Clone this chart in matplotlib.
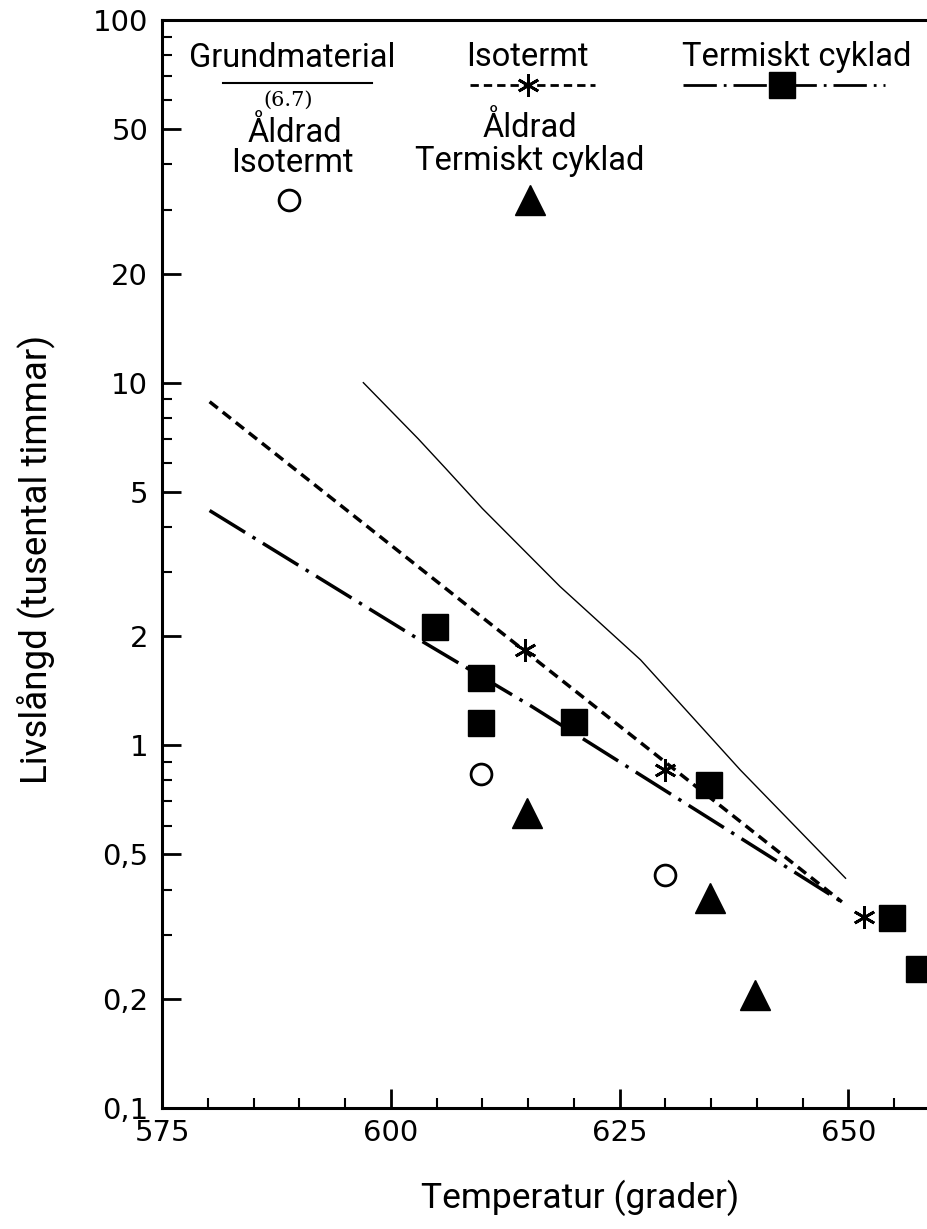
import numpy as np
import matplotlib
matplotlib.use("Agg")
import matplotlib.pyplot as plt
from matplotlib.ticker import FixedLocator, NullFormatter

# Grundmaterial (solid thin curve)
grund_temp = [597, 603, 606, 610, 618.5, 627.3, 638.2, 649.7]
grund_life = [10.0, 7.0, 5.8, 4.5, 2.74, 1.72, 0.855, 0.43]

# Isotermt (dashed line) and its points
iso_line_temp = [580.2, 649.3]
iso_line_life = [8.86, 0.37]
iso_temp = [614.7, 630.0, 651.7]
iso_life = [1.83, 0.855, 0.337]

# Termiskt cyklad (dash-dot line) and its points
cyk_line_temp = [580.2, 603.2, 615.4, 649.5]
cyk_line_life = [4.44, 1.95, 1.28, 0.367]
cyk_temp = [604.8, 609.9, 609.9, 620.0, 634.8, 654.8, 657.7]
cyk_life = [2.12, 1.53, 1.15, 1.16, 0.777, 0.335, 0.241]

# Aldrad isotermt (open circles)
ald_iso_temp = [609.9, 630.0]
ald_iso_life = [0.834, 0.439]

# Aldrad termiskt cyklad (triangles)
ald_cyk_temp = [614.9, 634.9, 639.8]
ald_cyk_life = [0.649, 0.379, 0.205]

y_major = [0.1, 0.2, 0.5, 1, 2, 5, 10, 20, 50, 100]
y_labels = ["0,1", "0,2", "0,5", "1", "2", "5", "10", "20", "50", "100"]
x_major = [575, 600, 625, 650]

narrow = ["Roboto", "DejaVu Sans"]
star = (6, 2, 0)
dashdot = (0, (12, 2.5, 1, 2.5))
dashed = (0, (3, 1.8))

fig = plt.figure(figsize=(9.27, 12.29), dpi=100)
ax = fig.add_axes([0.1748, 0.0985, 0.8252, 0.8852])

ax.plot(grund_temp, grund_life, color="black", lw=1.0)
ax.plot(iso_line_temp, iso_line_life, color="black", lw=2.5, linestyle=dashed)
ax.plot(cyk_line_temp, cyk_line_life, color="black", lw=2.5, linestyle=dashdot)

ax.plot(iso_temp, iso_life, linestyle="none", marker=star, ms=16, mew=2, color="black")
ax.plot(cyk_temp, cyk_life, linestyle="none", marker="s", ms=19, color="black")
ax.plot(ald_iso_temp, ald_iso_life, linestyle="none", marker="o", ms=15,
        mfc="white", mec="black", mew=2)
ax.plot(ald_cyk_temp, ald_cyk_life, linestyle="none", marker="^", ms=21, color="black")

ax.set_yscale("log")
ax.set_xlim(575, 658.6)
ax.set_ylim(0.1, 100)

ax.yaxis.set_major_locator(FixedLocator(y_major))
ax.set_yticklabels(y_labels)
minor_y = [m * 10.0 ** e for e in range(-1, 2) for m in range(2, 10) if m not in (2, 5)]
ax.yaxis.set_minor_locator(FixedLocator(minor_y))
ax.yaxis.set_minor_formatter(NullFormatter())

ax.set_xticks(x_major)
ax.set_xticks(np.arange(575, 659, 5), minor=True)

ax.tick_params(which="major", direction="in", length=14, width=2, labelsize=21, pad=10)
ax.tick_params(which="minor", direction="in", length=7, width=1.5)
ax.tick_params(axis="x", which="major", pad=8)

for side in ["left", "bottom", "top"]:
    ax.spines[side].set_linewidth(2.2)
ax.spines["right"].set_visible(False)

ax.set_xlabel("Temperatur (grader)", fontsize=25.5, family=narrow)
ax.xaxis.set_label_coords(0.546, -0.066)
ax.set_ylabel("Livslångd (tusental timmar)", fontsize=26.5, family=narrow)
ax.yaxis.set_label_coords(-0.140, 0.504)

# legend block drawn by hand
tr = ax.transAxes
txt = dict(transform=tr, ha="center", va="center", fontsize=23.5, family=narrow)
ax.text(0.170, 0.965, "Grundmaterial", **txt)
ax.plot([0.0797, 0.2745], [0.942, 0.942], color="black", lw=1.5, transform=tr)
ax.text(0.165, 0.926, "(6.7)", transform=tr, ha="center", va="center",
        fontsize=15, family="DejaVu Serif")
ax.text(0.174, 0.896, "Åldrad", **txt)
ax.text(0.171, 0.869, "Isotermt", **txt)
ax.plot([0.166], [0.835], marker="o", ms=15, mfc="white", mec="black", mew=2,
        transform=tr)

ax.text(0.478, 0.966, "Isotermt", **txt)
ax.plot([0.403, 0.566], [0.940, 0.940], color="black", lw=2.0, linestyle=dashed,
        transform=tr)
ax.plot([0.478], [0.940], marker=star, ms=16, mew=2, color="black", transform=tr)
ax.text(0.481, 0.901, "Åldrad", **txt)
ax.text(0.481, 0.870, "Termiskt cyklad", **txt)
ax.plot([0.481], [0.835], marker="^", ms=21, color="black", transform=tr)

ax.text(0.830, 0.966, "Termiskt cyklad", **txt)
ax.plot([0.681, 0.945], [0.940, 0.940], color="black", lw=2.0, linestyle=dashdot,
        transform=tr)
ax.plot([0.810], [0.940], marker="s", ms=19, color="black", transform=tr)

fig.savefig("out.png", dpi=100)
